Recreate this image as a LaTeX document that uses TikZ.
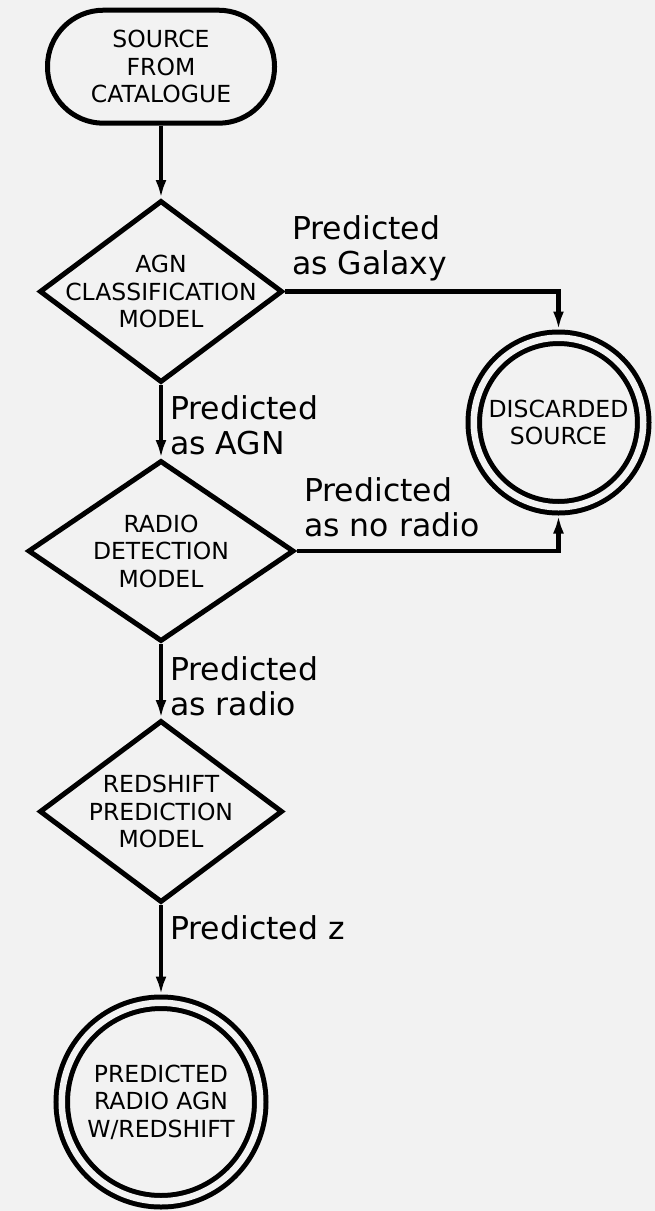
\documentclass[tikz,border=0pt]{standalone}
\usepackage{fontspec}
\setmainfont{DejaVu Sans}
\usetikzlibrary{shapes.geometric,arrows.meta}
\definecolor{bg}{HTML}{F2F2F2}
\tikzset{
  shp/.style={draw=black, line width=5pt, inner sep=0pt},
  stadium/.style={shp, rectangle, rounded corners=56pt, minimum width=227pt, minimum height=113pt},
  dia/.style={shp, diamond, outer sep=2.5pt},
  dcirc/.style={draw=black, line width=5pt, double=bg, double distance=6.5pt, circle, inner sep=0pt, outer sep=8.25pt},
  intext/.style={align=center, inner sep=0pt, font=\fontsize{23.5}{27.5}\selectfont},
  lbl/.style={align=left, inner sep=0pt, anchor=north west, font=\fontsize{31.5}{35}\selectfont},
  conn/.style={line width=4.5pt, -{Latex[length=18pt,width=11pt]}},
}
\begin{document}
\begin{tikzpicture}[x=1pt,y=-1pt]
\fill[bg] (0,0) rectangle (655,1211);
\useasboundingbox (0,0) rectangle (655,1211);

\node[stadium] (start) at (161,66.7) {};
\node[intext] (starttxt) at (start.center) {SOURCE\\FROM\\CATALOGUE};

\node[dia, minimum width=243pt, minimum height=182pt] (d1) at (161,291.5) {};
\node[intext] (d1txt) at (d1.center) {AGN\\CLASSIFICATION\\MODEL};

\node[dia, minimum width=266pt, minimum height=181pt] (d2) at (161,551) {};
\node[intext] (d2txt) at (d2.center) {RADIO\\DETECTION\\MODEL};

\node[dia, minimum width=243pt, minimum height=182pt] (d3) at (161,811.5) {};
\node[intext] (d3txt) at (d3.center) {REDSHIFT\\PREDICTION\\MODEL};

\node[dcirc, minimum size=198.5pt] (final) at (161,1102) {};
\node[intext] (finaltxt) at (final.center) {PREDICTED\\RADIO AGN\\W/REDSHIFT};

\node[dcirc, minimum size=169.5pt] (disc) at (558.5,422.5) {};
\node[intext] (disctxt) at (disc.center) {DISCARDED\\SOURCE};

\draw[conn] (start.south) -- (d1.north);
\draw[conn] (d1.south) -- (d2.north);
\draw[conn] (d2.south) -- (d3.north);
\draw[conn] (d3.south) -- (final.north);
\draw[conn] (d1.east) -| (disc.north);
\draw[conn] (d2.east) -| (disc.south);

\node[lbl] (lgal) at (292,215.5) {Predicted\\as Galaxy};
\node[lbl] (lagn) at (170,395.5) {Predicted\\as AGN};
\node[lbl] (lnor) at (304,477.2) {Predicted\\as no radio};
\node[lbl] (lrad) at (170,656.2) {Predicted\\as radio};
\node[lbl] (lz) at (170,915.2) {Predicted z};
\end{tikzpicture}
\end{document}
